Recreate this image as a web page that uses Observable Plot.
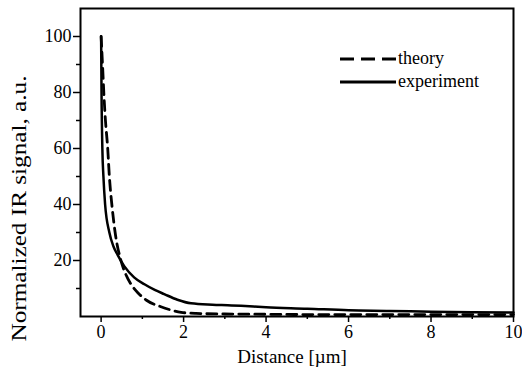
<!DOCTYPE html>
<html>
<head>
<meta charset="utf-8">
<script src="https://cdn.jsdelivr.net/npm/d3@7"></script>
<script src="https://cdn.jsdelivr.net/npm/@observablehq/plot@0.6"></script>
<style>
  html, body { margin: 0; padding: 0; background: #fff; }
  #wrap { position: relative; width: 522px; height: 377px; }
  #legend { position: absolute; left: 340px; top: 47px; font-family: "Liberation Serif", serif; font-size: 18px; color: #000; }
  #legend .row { display: flex; align-items: center; height: 23px; }
  #legend svg { display: block; margin-right: 1px; }
</style>
</head>
<body>
<div id="wrap"></div>
<script>
// Experiment (solid)
const expX = [0, 0.01, 0.03, 0.056, 0.097, 0.2, 0.3, 0.4, 0.56, 0.8, 1.05, 1.3, 1.53, 1.85, 2.18, 2.7, 3.07, 3.39, 4, 5, 6, 7, 8, 9, 10];
const expY = [100, 80, 60, 50, 40, 30, 25, 22, 18, 14, 11.5, 9.5, 8, 6, 4.7, 4.2, 4.0, 3.8, 3.3, 2.8, 2.2, 2.0, 1.7, 1.5, 1.4];
// Theory (dashed)
const thX = [0, 0.04, 0.065, 0.105, 0.16, 0.2, 0.26, 0.34, 0.48, 0.6, 0.75, 0.89, 1.1, 1.45, 1.7, 1.94, 2.3, 3, 4, 5, 6, 7, 8, 9, 10];
const thY = [100, 88, 80, 70, 60, 50, 40, 30, 20, 15, 11, 8.5, 5.8, 3.5, 2.3, 1.5, 1.1, 0.9, 0.8, 0.7, 0.7, 0.7, 0.7, 0.7, 0.7];

const xMajor = [0, 2, 4, 6, 8, 10];
const xMinor = [1, 3, 5, 7, 9];
const yMajor = [20, 40, 60, 80, 100];
const yMinor = [10, 30, 50, 70, 90];

const seriesNames = ["theory", "experiment"];
const xLabel = "Distance [\u00b5m]";
const yLabel = "Normalized IR signal, a.u.";

const exp = expX.map((x, i) => ({x, y: expY[i]}));
const th = thX.map((x, i) => ({x, y: thY[i]}));

const font = "Liberation Serif";

const chart = Plot.plot({
  width: 522,
  height: 377,
  marginLeft: 80,
  marginRight: 9,
  marginTop: 8,
  marginBottom: 61,
  style: { fontFamily: font, background: "#fff", color: "#000" },
  x: { domain: [-0.5, 10] },
  y: { domain: [0, 110] },
  marks: [
    Plot.axisX({ ticks: xMajor, tickSize: 6, tickPadding: 3, fontSize: 18, label: null, tickFormat: d => String(d), strokeWidth: 1.5 }),
    Plot.axisX({ ticks: xMinor, tickSize: 3, text: null, label: null, strokeWidth: 1.5 }),
    Plot.axisY({ ticks: yMajor, tickSize: 7, tickPadding: 2, fontSize: 18, label: null, tickFormat: d => String(d), strokeWidth: 1.5 }),
    Plot.axisY({ ticks: yMinor, tickSize: 4, text: null, label: null, strokeWidth: 1.5 }),
    Plot.line(th, { x: "x", y: "y", stroke: "#000", strokeWidth: 2.8, strokeDasharray: "10,6", curve: "monotone-x" }),
    Plot.line(exp, { x: "x", y: "y", stroke: "#000", strokeWidth: 2.5, curve: "monotone-x" }),
    Plot.frame({ stroke: "#000", strokeWidth: 2 }),
    Plot.text([xLabel], { frameAnchor: "bottom", dx: -5, dy: 46, fontSize: 19, fill: "#000" }),
    Plot.text([yLabel], { frameAnchor: "left", textAnchor: "middle", rotate: -90, dx: -62, dy: 46, fontSize: 22, fill: "#000" })
  ]
});

// stretch the y label slightly along its length, as in the reference
d3.select(chart).selectAll("text").filter(function () { return this.textContent === yLabel; })
  .attr("textLength", 266).attr("lengthAdjust", "spacingAndGlyphs");

const wrap = document.getElementById("wrap");
wrap.appendChild(chart);

const legend = document.createElement("div");
legend.id = "legend";
const styles = [
  { dash: "14,7", name: seriesNames[0] },
  { dash: null, name: seriesNames[1] }
];
for (const s of styles) {
  const row = document.createElement("div");
  row.className = "row";
  const svg = d3.create("svg").attr("width", 57).attr("height", 12);
  svg.append("line").attr("x1", 0).attr("x2", 56).attr("y1", 6).attr("y2", 6)
    .attr("stroke", "#000").attr("stroke-width", 3).attr("stroke-dasharray", s.dash);
  row.appendChild(svg.node());
  const t = document.createElement("span");
  t.textContent = s.name;
  row.appendChild(t);
  legend.appendChild(row);
}
wrap.appendChild(legend);
</script>
</body>
</html>
